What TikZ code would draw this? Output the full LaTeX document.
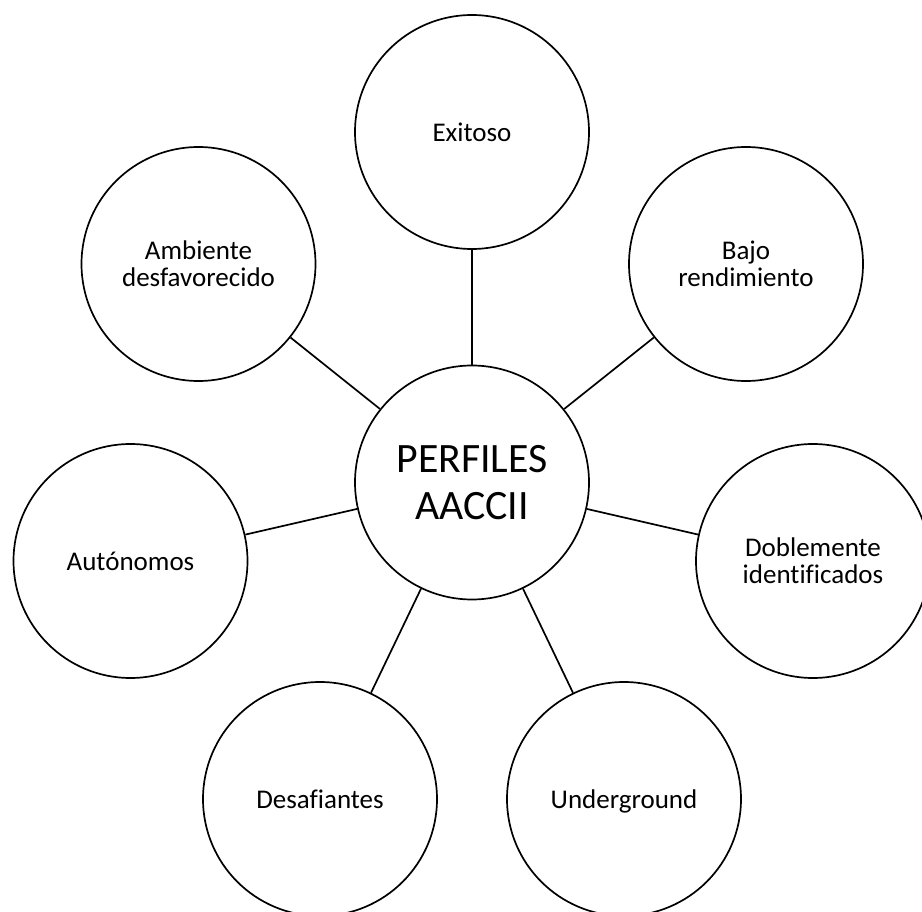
\documentclass[tikz,border=0pt]{standalone}
\usepackage{fontspec}
\setmainfont{Carlito}[Ligatures=NoCommon]
\begin{document}
\begin{tikzpicture}[x=1pt,y=-1pt,
  ring/.style={circle,draw,line width=1.7pt,minimum size=234pt,inner sep=0pt,
    align=center,font=\fontsize{27}{27}\selectfont},
  hub/.style={ring,font=\fontsize{41.8}{47.5}\selectfont},
  link/.style={line width=1.7pt}]
\useasboundingbox (0,0) rectangle (922,912);
\clip (0,0) rectangle (922,912);
% central profile
\node[hub] (c) at (472,482.5) {PERFILES\\AACCII};
% surrounding profiles, seven around the centre
\node[ring] (e) at (472,132) {Exitoso};
\node[ring] (b) at (746,264) {Bajo\\rendimiento};
\node[ring] (d) at (813,561) {Doblemente\\identificados};
\node[ring] (u) at (624,799) {\raisebox{0pt}[\height][0pt]{Underground}};
\node[ring] (s) at (320,799) {Desafiantes};
\node[ring] (a) at (130.5,561) {Autónomos};
\node[ring] (m) at (198.5,264) {Ambiente\\desfavorecido};
% spokes
\foreach \n in {e,b,d,u,s,a,m} \draw[link] (c) -- (\n);
\end{tikzpicture}
\end{document}
